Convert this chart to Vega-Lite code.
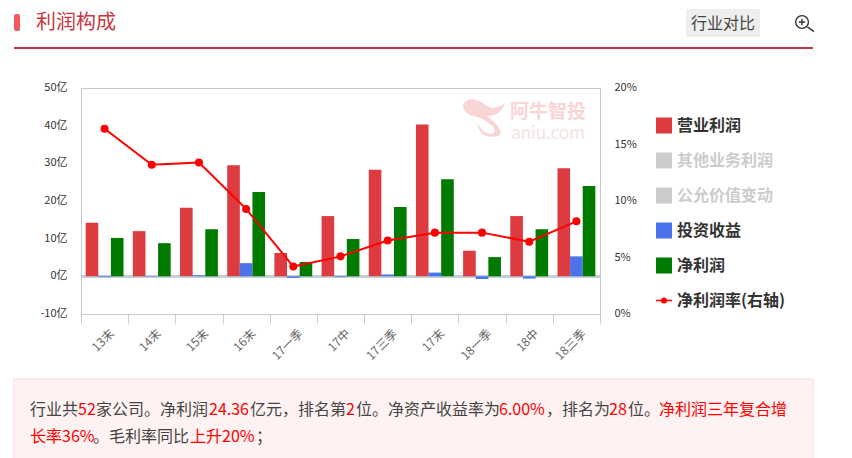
{
"$schema":"https://vega.github.io/schema/vega-lite/v6.json",
"width":519,"height":226,
"autosize":{"type":"none"},
"padding":{"left":81,"top":88,"right":252,"bottom":144},
"background":"#ffffff",
"config":{"font":"Noto Sans CJK SC","view":{"stroke":"#c3c9d0","strokeWidth":1}},
"datasets":{
"bars":[
{"p":"13末","s":"营业利润","v":14.2},{"p":"14末","s":"营业利润","v":12},{"p":"15末","s":"营业利润","v":18.2},{"p":"16末","s":"营业利润","v":29.5},{"p":"17一季","s":"营业利润","v":6.2},{"p":"17中","s":"营业利润","v":16},{"p":"17三季","s":"营业利润","v":28.3},{"p":"17末","s":"营业利润","v":40.3},{"p":"18一季","s":"营业利润","v":6.8},{"p":"18中","s":"营业利润","v":16},{"p":"18三季","s":"营业利润","v":28.7},
{"p":"13末","s":"投资收益","v":-0.2},{"p":"14末","s":"投资收益","v":-0.1},{"p":"15末","s":"投资收益","v":0.3},{"p":"16末","s":"投资收益","v":3.5},{"p":"17一季","s":"投资收益","v":-0.4},{"p":"17中","s":"投资收益","v":-0.2},{"p":"17三季","s":"投资收益","v":0.5},{"p":"17末","s":"投资收益","v":1},{"p":"18一季","s":"投资收益","v":-0.7},{"p":"18中","s":"投资收益","v":-0.6},{"p":"18三季","s":"投资收益","v":5.3},
{"p":"13末","s":"净利润","v":10.2},{"p":"14末","s":"净利润","v":8.8},{"p":"15末","s":"净利润","v":12.5},{"p":"16末","s":"净利润","v":22.4},{"p":"17一季","s":"净利润","v":3.8},{"p":"17中","s":"净利润","v":9.9},{"p":"17三季","s":"净利润","v":18.4},{"p":"17末","s":"净利润","v":25.8},{"p":"18一季","s":"净利润","v":5.1},{"p":"18中","s":"净利润","v":12.5},{"p":"18三季","s":"净利润","v":24}
],
"rate":[
{"p":"13末","r":16.4},{"p":"14末","r":13.2},{"p":"15末","r":13.4},{"p":"16末","r":9.3},{"p":"17一季","r":4.2},{"p":"17中","r":5.1},{"p":"17三季","r":6.5},{"p":"17末","r":7.2},{"p":"18一季","r":7.2},{"p":"18中","r":6.4},{"p":"18三季","r":8.2}
],
"one":[{"k":1}]
},
"data":{"name":"bars"},
"layer":[
{"data":{"name":"one"},"mark":{"type":"text","text":"阿牛智投","x":467,"y":24,"fontSize":19,"fontWeight":"bold","fill":"#f9d5d5","align":"center","baseline":"middle"},"encoding":{}},
{"data":{"name":"one"},"mark":{"type":"text","text":"aniu.com","x":467,"y":46,"fontSize":17,"fill":"#f4e2e2","align":"center","baseline":"middle"},"encoding":{}},
{"data":{"name":"one"},"mark":{"type":"point","shape":"M-1 -.65C-.8 -1 -.3 -.95 .1 -.6C.4 -.4 .7 -.5 1 -.7C.85 -.25 .5 -.05 .15 -.1C.4 .1 .75 .4 .8 .65C.8 .9 .4 .95 .1 .85C-.15 .75 -.3 .5 -.3 .2C-.2 .5 0 .72 .3 .75C.6 .78 .55 .55 .35 .35C.1 .1 -.2 -.05 -.5 -.1C-.8 -.15 -1 -.35 -1 -.65Z","x":403,"y":30,"size":1764,"filled":true,"fill":"#f9d5d5","opacity":1},"encoding":{}},
{"mark":{"type":"rule","stroke":"#c3ced6","strokeWidth":2},"encoding":{"y":{"datum":0,"type":"quantitative","scale":{"domain":[-10,50]},"axis":null}}},
{"mark":{"type":"bar","stroke":null},
 "encoding":{
  "x":{"field":"p","type":"nominal","sort":null,"title":null,"scale":{"paddingInner":0,"paddingOuter":0},
   "axis":{"orient":"bottom","labelAngle":-45,"labelAlign":"right","labelBaseline":"middle","labelColor":"#666666","labelFontSize":12,"labelPadding":8,"labelOffset":7,"tickBand":"extent","tickSize":9,"tickColor":"#c3ced6","domainColor":"#c3ced6","labelOverlap":false,"grid":false}},
  "xOffset":{"field":"s","sort":["营业利润","投资收益","净利润"],"scale":{"domain":["营业利润","投资收益","净利润"],"paddingInner":0,"paddingOuter":0.37}},
  "y":{"field":"v","type":"quantitative","title":null,"scale":{"domain":[-10,50],"nice":false},
   "axis":{"orient":"left","values":[-10,0,10,20,30,40,50],"labelExpr":"datum.value+'亿'","labelColor":"#333333","labelFontSize":11,"labelPadding":14,"labelOffset":-0.5,"ticks":false,"domain":false,"grid":false}},
  "color":{"field":"s","type":"nominal","title":null,
   "scale":{"domain":["营业利润","其他业务利润","公允价值变动","投资收益","净利润","净利润率(右轴)"],"range":["#dc3b3f","#cccccc","#cccccc","#4a72ea","#007a00","#ff0000"]},
   "legend":{"orient":"none","legendX":575,"legendY":28,"symbolType":"square","symbolSize":256,"symbolStrokeWidth":0,"labelFontSize":16,"labelFontWeight":"bold","labelOffset":5,"rowPadding":16,"padding":0,"clipHeight":19,
    "encoding":{"symbols":{"shape":{"condition":{"test":"datum.value==='净利润率(右轴)'","value":"M-1 -0.08H-0.4A0.42 0.42 0 0 1 0.4 -0.08H1V0.08H0.4A0.42 0.42 0 0 1 -0.4 0.08H-1Z"},"value":"square"}},
     "labels":{"fill":{"condition":{"test":"datum.value==='其他业务利润'||datum.value==='公允价值变动'","value":"#cccccc"},"value":"#333333"}}}}}
 }},
{"data":{"name":"rate"},
 "mark":{"type":"line","color":"#ff0000","strokeWidth":2,"point":{"filled":true,"fill":"#ff0000","size":65}},
 "encoding":{
  "x":{"field":"p","type":"nominal","sort":null,"title":null},
  "y":{"field":"r","type":"quantitative","title":null,"scale":{"domain":[0,20],"nice":false},
   "axis":{"orient":"right","values":[0,5,10,15,20],"labelExpr":"datum.value+'%'","labelColor":"#333333","labelFontSize":11,"labelPadding":14,"labelOffset":-0.5,"ticks":false,"domain":false,"grid":false}}
 }},
{"data":{"name":"one"},"mark":{"type":"rect","x":-67,"x2":-61,"y":-74,"y2":-57,"fill":"#f0595f","cornerRadius":2},"encoding":{}},
{"data":{"name":"one"},"mark":{"type":"text","text":"利润构成","x":-45,"y":-65,"fontSize":20,"fill":"#c9363e","baseline":"middle","align":"left"},"encoding":{}},
{"data":{"name":"one"},"mark":{"type":"rect","x":-67,"x2":732,"y":-41,"y2":-39,"fill":"#b93a40"},"encoding":{}},
{"data":{"name":"one"},"mark":{"type":"rect","x":605,"x2":679,"y":-79,"y2":-51,"fill":"#eeeeee"},"encoding":{}},
{"data":{"name":"one"},"mark":{"type":"text","text":"行业对比","x":642,"y":-64,"fontSize":16,"fill":"#444444","baseline":"middle","align":"center"},"encoding":{}},
{"data":{"name":"one"},"mark":{"type":"point","shape":"M-0.49 -1.05A0.8 0.8 0 1 1 -0.5 -1.05Z M0.1 0.3L1 0.95 M-0.5 -0.65V0.15 M-0.9 -0.25H-0.1","x":725,"y":-64,"size":256,"filled":false,"stroke":"#333333","strokeWidth":1.4,"opacity":1},"encoding":{}},
{"data":{"name":"one"},"mark":{"type":"rect","x":-67,"x2":732,"y":291,"y2":372,"fill":"#fff2f2","stroke":"#fbd9dc","strokeWidth":1},"encoding":{}},
{"data":{"name":"one"},"mark":{"type":"text","text":"行业共","x":-51,"y":322,"fontSize":16,"fill":"#444444","baseline":"middle","align":"left"},"encoding":{}},
{"data":{"name":"one"},"mark":{"type":"text","text":"52","x":-3,"y":322,"fontSize":16,"fill":"#ff0000","baseline":"middle","align":"left"},"encoding":{}},
{"data":{"name":"one"},"mark":{"type":"text","text":"家公司。净利润","x":15,"y":322,"fontSize":16,"fill":"#444444","baseline":"middle","align":"left"},"encoding":{}},
{"data":{"name":"one"},"mark":{"type":"text","text":"24.36","x":128,"y":322,"fontSize":16,"fill":"#ff0000","baseline":"middle","align":"left"},"encoding":{}},
{"data":{"name":"one"},"mark":{"type":"text","text":"亿元，排名第","x":169,"y":322,"fontSize":16,"fill":"#444444","baseline":"middle","align":"left"},"encoding":{}},
{"data":{"name":"one"},"mark":{"type":"text","text":"2","x":265,"y":322,"fontSize":16,"fill":"#ff0000","baseline":"middle","align":"left"},"encoding":{}},
{"data":{"name":"one"},"mark":{"type":"text","text":"位。净资产收益率为","x":275,"y":322,"fontSize":16,"fill":"#444444","baseline":"middle","align":"left"},"encoding":{}},
{"data":{"name":"one"},"mark":{"type":"text","text":"6.00%","x":418,"y":322,"fontSize":16,"fill":"#ff0000","baseline":"middle","align":"left"},"encoding":{}},
{"data":{"name":"one"},"mark":{"type":"text","text":"，排名为","x":465,"y":322,"fontSize":16,"fill":"#444444","baseline":"middle","align":"left"},"encoding":{}},
{"data":{"name":"one"},"mark":{"type":"text","text":"28","x":528,"y":322,"fontSize":16,"fill":"#ff0000","baseline":"middle","align":"left"},"encoding":{}},
{"data":{"name":"one"},"mark":{"type":"text","text":"位。","x":547,"y":322,"fontSize":16,"fill":"#444444","baseline":"middle","align":"left"},"encoding":{}},
{"data":{"name":"one"},"mark":{"type":"text","text":"净利润三年复合增","x":578,"y":322,"fontSize":16,"fill":"#ff0000","baseline":"middle","align":"left"},"encoding":{}},
{"data":{"name":"one"},"mark":{"type":"text","text":"长率36%","x":-51,"y":349,"fontSize":16,"fill":"#ff0000","baseline":"middle","align":"left"},"encoding":{}},
{"data":{"name":"one"},"mark":{"type":"text","text":"。毛利率同比","x":12,"y":349,"fontSize":16,"fill":"#444444","baseline":"middle","align":"left"},"encoding":{}},
{"data":{"name":"one"},"mark":{"type":"text","text":"上升20%","x":109,"y":349,"fontSize":16,"fill":"#ff0000","baseline":"middle","align":"left"},"encoding":{}},
{"data":{"name":"one"},"mark":{"type":"text","text":"；","x":175,"y":349,"fontSize":16,"fill":"#444444","baseline":"middle","align":"left"},"encoding":{}}
],
"resolve":{"scale":{"y":"independent"},"axis":{"y":"independent"}}
}
